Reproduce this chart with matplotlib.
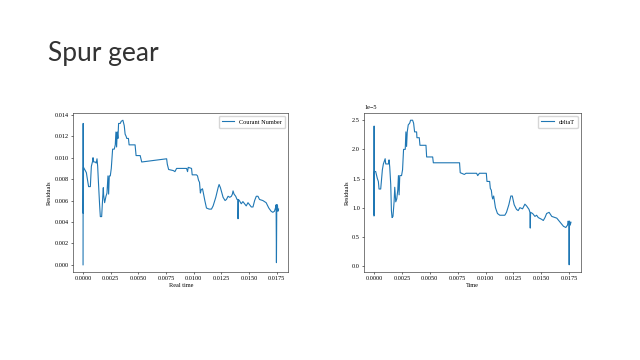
import matplotlib.pyplot as plt

# Courant number residuals (left panel)
real_time = [0.0, 0.00001, 0.00002, 0.00004, 0.00009, 0.0002, 0.0003, 0.00036, 0.0005, 0.00066,
             0.0007, 0.00075, 0.00087, 0.0009, 0.00096, 0.0011, 0.00119, 0.00126, 0.00132, 0.0014,
             0.0015, 0.00156, 0.00168, 0.00177, 0.00183, 0.00186, 0.00195, 0.00207, 0.00216, 0.00225,
             0.00231, 0.00237, 0.00246, 0.00255, 0.00267, 0.00282, 0.00291, 0.00297, 0.00303, 0.00309,
             0.00315, 0.00321, 0.00336, 0.00345, 0.0036, 0.00372, 0.0038, 0.00389, 0.00395, 0.0041,
             0.00416, 0.0047, 0.00479, 0.00516, 0.0053, 0.00755, 0.00761, 0.00773, 0.00815, 0.0083,
             0.00845, 0.00935, 0.00944, 0.0095, 0.0098, 0.00986, 0.01025, 0.01034, 0.01043, 0.01052,
             0.0106, 0.01067, 0.01079, 0.01085, 0.011, 0.01115, 0.01139, 0.0116, 0.01175, 0.01199,
             0.0122, 0.01229, 0.01241, 0.01265, 0.01283, 0.01295, 0.0131, 0.01325, 0.0134, 0.01349,
             0.01355, 0.01364, 0.01379, 0.01391, 0.01399, 0.014, 0.01403, 0.01412, 0.01429, 0.01444,
             0.01459, 0.01474, 0.0149, 0.01505, 0.0152, 0.01535, 0.0155, 0.01565, 0.0158, 0.01594,
             0.01624, 0.01654, 0.01678, 0.01699, 0.01714, 0.01729, 0.01738, 0.01744, 0.01747, 0.0175,
             0.01756, 0.0176, 0.01766]
courant = [0.0, 0.0132, 0.0048, 0.0091, 0.0090, 0.0088, 0.0086, 0.0082, 0.0073, 0.0073,
           0.0082, 0.0092, 0.0097, 0.0100, 0.0096, 0.0096, 0.0095, 0.0099, 0.0092, 0.0075,
           0.0055, 0.0045, 0.0045, 0.0062, 0.0072, 0.0065, 0.0058, 0.0064, 0.0067, 0.0083,
           0.0066, 0.0083, 0.0083, 0.0090, 0.0108, 0.0108, 0.0112, 0.0124, 0.0110, 0.0124,
           0.0118, 0.0132, 0.0132, 0.0134, 0.0135, 0.0130, 0.0122, 0.0120, 0.0118, 0.0118,
           0.0112, 0.0112, 0.0102, 0.0102, 0.0096, 0.0099, 0.0094, 0.0089, 0.0088, 0.0087,
           0.0090, 0.0090, 0.0087, 0.0091, 0.0090, 0.0084, 0.0084, 0.0083, 0.0079, 0.0077,
           0.0067, 0.0070, 0.0071, 0.0068, 0.0060, 0.0053, 0.0052, 0.0052, 0.0055, 0.0063,
           0.0072, 0.0075, 0.0072, 0.0063, 0.0060, 0.0061, 0.0064, 0.0063, 0.0064, 0.0066,
           0.0069, 0.0066, 0.0064, 0.0061, 0.0061, 0.0043, 0.0061, 0.0060, 0.0057, 0.0059,
           0.0057, 0.0055, 0.0058, 0.0056, 0.0054, 0.0054, 0.0060, 0.0064, 0.0064, 0.0061,
           0.0060, 0.0058, 0.0053, 0.0050, 0.0049, 0.0050, 0.0053, 0.0056, 0.0002, 0.0056,
           0.0056, 0.0050, 0.0052]

# deltaT residuals (right panel)
sim_time = [0.0, 0.00001, 0.00002, 0.00004, 0.00015, 0.0003, 0.00039, 0.00045, 0.0006, 0.00066,
            0.00075, 0.00084, 0.001, 0.00105, 0.0013, 0.00135, 0.00141, 0.0015, 0.00156, 0.00162,
            0.0017, 0.0018, 0.00186, 0.00195, 0.00204, 0.00213, 0.00219, 0.00225, 0.00231, 0.00247,
            0.00256, 0.00265, 0.0028, 0.00286, 0.00292, 0.00298, 0.00307, 0.0032, 0.00328, 0.00346,
            0.00355, 0.00364, 0.00382, 0.00385, 0.00406, 0.00412, 0.00466, 0.00472, 0.00526, 0.00532,
            0.00767, 0.00773, 0.0081, 0.00825, 0.0092, 0.0093, 0.00945, 0.01007, 0.01013, 0.01037,
            0.01043, 0.01052, 0.01058, 0.01064, 0.01073, 0.01089, 0.01107, 0.01128, 0.01173, 0.01188,
            0.01209, 0.01227, 0.0124, 0.01257, 0.01278, 0.01293, 0.01308, 0.01332, 0.01353, 0.01368,
            0.0139, 0.01398, 0.01401, 0.01404, 0.01422, 0.01443, 0.01458, 0.01473, 0.01503, 0.01518,
            0.01533, 0.01548, 0.0157, 0.01594, 0.01639, 0.01669, 0.01699, 0.0172, 0.01735, 0.01741,
            0.01747, 0.0175, 0.01753, 0.01759, 0.01766]
delta_t = [0.86, 2.40, 0.87, 1.62, 1.62, 1.50, 1.45, 1.32, 1.32, 1.45,
           1.65, 1.75, 1.84, 1.75, 1.75, 1.82, 1.70, 1.40, 0.95, 0.83,
           0.85, 1.10, 1.35, 1.10, 1.15, 1.30, 1.55, 1.22, 1.55, 1.55,
           1.65, 2.00, 2.00, 2.30, 2.05, 2.30, 2.42, 2.45, 2.50, 2.50,
           2.45, 2.30, 2.30, 2.20, 2.20, 2.07, 2.07, 1.87, 1.87, 1.77,
           1.77, 1.60, 1.57, 1.59, 1.59, 1.55, 1.59, 1.59, 1.45, 1.45,
           1.33, 1.30, 1.20, 1.15, 1.20, 1.00, 0.90, 0.87, 0.87, 0.92,
           1.05, 1.20, 1.20, 1.05, 0.97, 0.95, 1.00, 0.98, 1.06, 1.03,
           0.97, 0.92, 0.65, 0.92, 0.90, 0.85, 0.87, 0.83, 0.80, 0.78,
           0.83, 0.90, 0.92, 0.85, 0.82, 0.75, 0.68, 0.66, 0.70, 0.77,
           0.73, 0.02, 0.77, 0.70, 0.75]
delta_t = [v * 1e-5 for v in delta_t]

x_ticks = [0.0, 0.0025, 0.005, 0.0075, 0.01, 0.0125, 0.015, 0.0175]

plt.rcParams['font.family'] = ['Liberation Serif', 'DejaVu Serif']
plt.rcParams['font.size'] = 4.5
plt.rcParams['axes.linewidth'] = 0.45
plt.rcParams['axes.edgecolor'] = '#333333'
plt.rcParams['xtick.major.size'] = 1.5
plt.rcParams['ytick.major.size'] = 1.5
plt.rcParams['xtick.major.width'] = 0.4
plt.rcParams['ytick.major.width'] = 0.4
plt.rcParams['xtick.major.pad'] = 1.5
plt.rcParams['ytick.major.pad'] = 1.5

fig = plt.figure(figsize=(6.4, 3.6), dpi=100)
fig.text(0.075, 0.83, "Spur gear", fontsize=19, family=['Lato', 'DejaVu Sans'],
         color='#333333')

ax1 = fig.add_axes([0.1145, 0.2444, 0.336, 0.4417])
ax1.plot(real_time, courant, color='#1f77b4', linewidth=0.8, label='Courant Number')
ax1.set_xticks(x_ticks)
ax1.set_xlabel("Real time", labelpad=1.5)
ax1.set_ylabel("Residuals", labelpad=2)
ax1.legend(loc='upper right', fontsize=4.5, handlelength=2, borderpad=0.5,
           frameon=True, fancybox=True, edgecolor='#cccccc')

ax2 = fig.add_axes([0.569, 0.2444, 0.3385, 0.4417])
ax2.plot(sim_time, delta_t, color='#1f77b4', linewidth=0.8, label='deltaT')
ax2.set_xticks(x_ticks)
ax2.set_xlabel("Time", labelpad=1.5)
ax2.set_ylabel("Residuals", labelpad=2)
ax2.legend(loc='upper right', fontsize=4.5, handlelength=2, borderpad=0.5,
           frameon=True, fancybox=True, edgecolor='#cccccc')

fig.savefig("out.png", dpi=100)
